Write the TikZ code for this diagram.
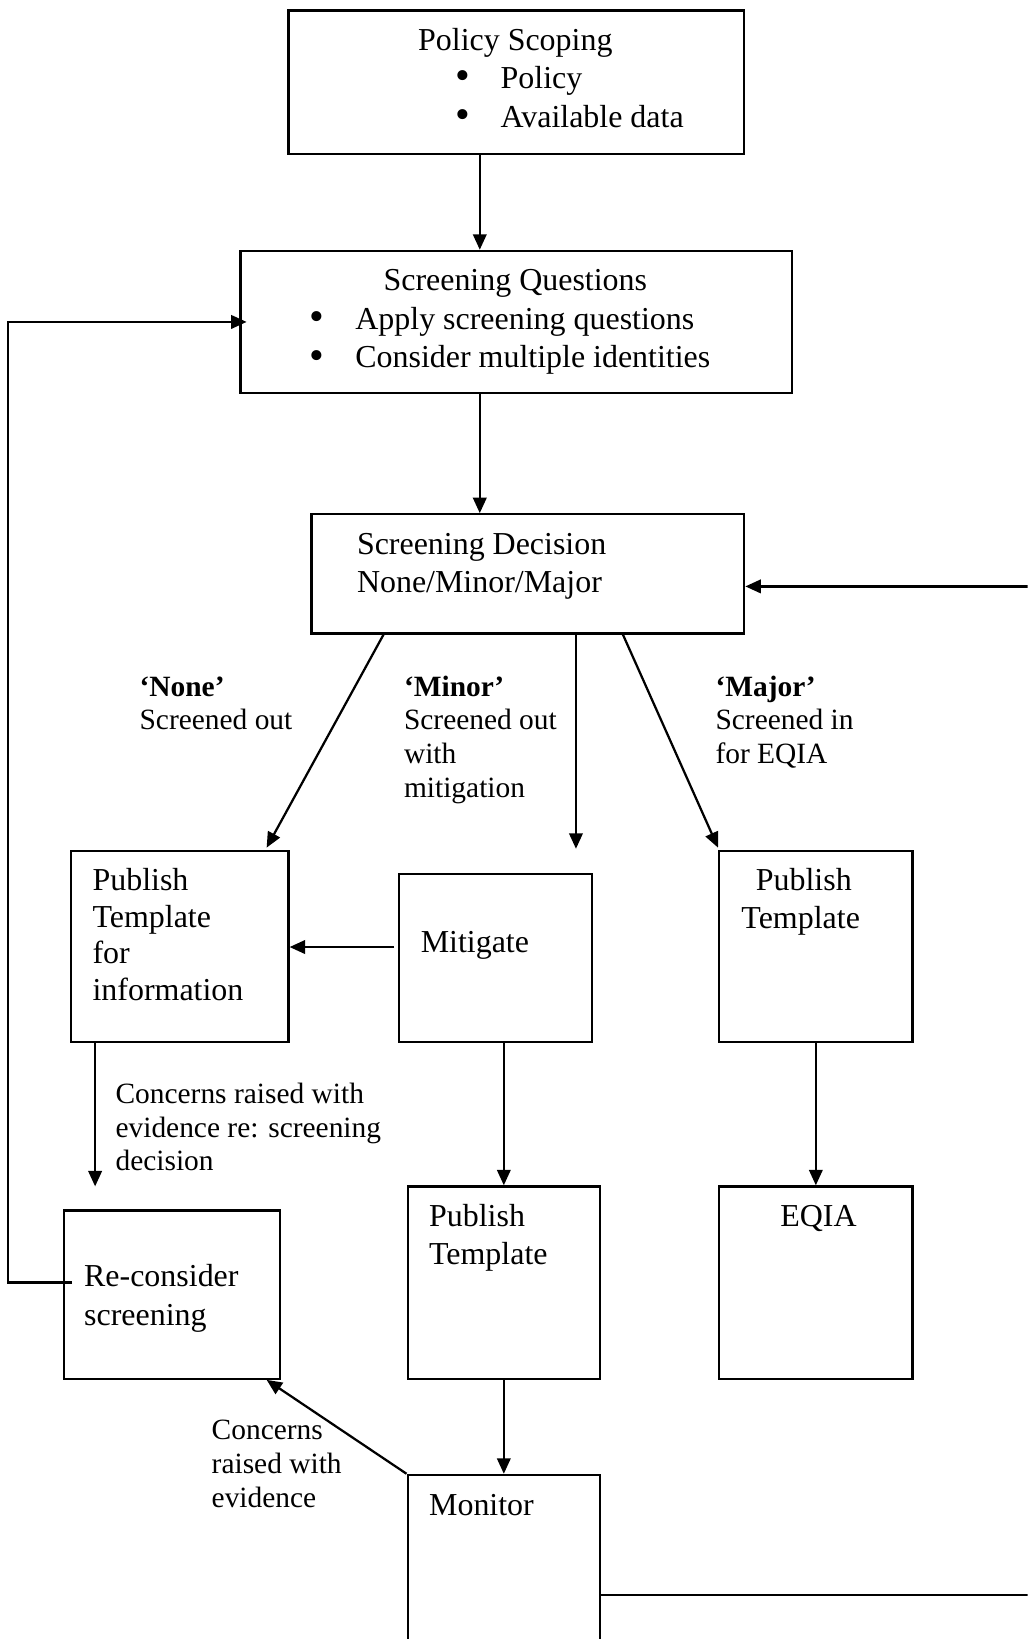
\documentclass[tikz,border=0pt]{standalone}
\usepackage{fontspec}
\setmainfont{Liberation Serif}
\usetikzlibrary{arrows.meta,calc,fit}

\newcommand{\bulletitem}[1]{\makebox[16.2pt][l]{\raisebox{-0.4pt}{\fontsize{15}{14}\selectfont\textbullet}}#1}

\begin{document}
\begin{tikzpicture}[
    x=0.373pt, y=-0.373pt,
    box/.style={draw, line width=0.8pt, inner sep=0pt},
    txt/.style={anchor=base west, inner sep=0pt, font=\fontsize{11.4}{14}\selectfont},
    ctxt/.style={txt, anchor=base},
    lbl/.style={anchor=base west, inner sep=0pt, font=\fontsize{10.5}{12}\selectfont},
    arr/.style={draw, line width=0.8pt, -{Triangle[length=5.5pt,width=4.8pt]}},
    wire/.style={draw, line width=0.8pt}
]

% page
\fill[white] (0,0) rectangle (983,1568);
\useasboundingbox (0,0) rectangle (983,1568);
\clip (0,0) rectangle (983,1568);

% Boxes
\node[box, fit={(276,10) (712,147)}]    (pol)   {};
\node[box, fit={(230,240) (758,376)}]   (sq)    {};
\node[box, fit={(298,492) (712,606)}]   (dec)   {};
\node[box, fit={(68,814) (276,997)}]    (pinf)  {};
\node[box, fit={(382,836) (566,997)}]   (mit)   {};
\node[box, fit={(688,814) (873,997)}]   (pmaj)  {};
\node[box, fit={(61,1158) (268,1319)}]  (rec)   {};
\node[box, fit={(390,1135) (574,1319)}] (pmin)  {};
\node[box, fit={(688,1135) (873,1319)}] (eqia)  {};
\node[box, fit={(390,1411) (574,1640)}] (mon)   {};

% Box texts
\node[ctxt] (polT) at (493,48)  {Policy Scoping};
\node[txt]  (polA) at (435,85)  {\bulletitem{Policy}};
\node[txt]  (polB) at (435,122) {\bulletitem{Available data}};

\node[ctxt] (sqT) at (493,278) {Screening Questions};
\node[txt]  (sqA) at (296,315) {\bulletitem{Apply screening questions}};
\node[txt]  (sqB) at (296,352) {\bulletitem{Consider multiple identities}};

\node[txt] (decA) at (341,530) {Screening Decision};
\node[txt] (decB) at (341,567) {None/Minor/Major};

\foreach \t [count=\i] in {Publish, Template, for, information}
    \node[txt] (pinf-\i) at (88,{852+35*(\i-1)}) {\t};

\node[txt]  (mitT)  at (402,911) {Mitigate};
\node[ctxt] (pmajA) at (769,852) {Publish};
\node[ctxt] (pmajB) at (766,888) {Template};
\node[txt]  (recA)  at (80,1231) {Re-consider};
\node[txt]  (recB)  at (80,1268) {screening};
\node[txt]  (pminA) at (410,1173) {Publish};
\node[txt]  (pminB) at (410,1210) {Template};
\node[ctxt] (eqiaT) at (783,1173) {EQIA};
\node[txt]  (monT)  at (410,1450) {Monitor};

% Labels
\node[lbl] (noneA) at (133,666) {\textbf{‘None’}};
\node[lbl] (noneB) at (133,698) {Screened out};

\node[lbl] (minA) at (386,666) {\textbf{‘Minor’}};
\node[lbl] (minB) at (386,698) {Screened out};
\node[lbl] (minC) at (386,730) {with};
\node[lbl] (minD) at (386,763) {mitigation};

\node[lbl] (majA) at (684,666) {\textbf{‘Major’}};
\node[lbl] (majB) at (684,698) {Screened in};
\node[lbl] (majC) at (684,730) {for EQIA};

\node[lbl] (conA) at (110,1056) {Concerns raised with};
\node[lbl] (conB) at (110,1088) {evidence re: screening};
\node[lbl] (conC) at (110,1120) {decision};

\node[lbl] (evA) at (202,1377) {Concerns};
\node[lbl] (evB) at (202,1410) {raised with};
\node[lbl] (evC) at (202,1442) {evidence};

% Helper points
\coordinate (mainX)    at (459,0);
\coordinate (minorEnd) at (551,812);
\coordinate (mitY)     at (0,906);
\coordinate (noneEnd)  at (91,1135);
\coordinate (loopL)    at (8,1227);
\coordinate (loopLtop) at (8,308);
\coordinate (loopR)    at (1000,1526);
\coordinate (loopRtop) at (1000,561);

% Connectors
\draw[arr] (pol.south -| mainX) -- (sq.north -| mainX);
\draw[arr] (sq.south -| mainX) -- (dec.north -| mainX);
\draw[arr] ($(dec.south west)+(70,0)$) -- ($(pinf.north east)+(-22,-2)$);
\draw[arr] (dec.south -| minorEnd) -- (minorEnd);
\draw[arr] ($(dec.south west)+(299,0)$) -- ($(pmaj.north west)+(0,-2)$);
\draw[arr] ($(mit.west |- mitY)+(-4,0)$) -- (pinf.east |- mitY);
\draw[arr] (pinf.south -| noneEnd) -- (noneEnd);
\draw[arr] (pmin.north |- mit.south) -- (pmin.north);
\draw[arr] (pmaj.south) -- (eqia.north);
\draw[arr] (pmin.south) -- (mon.north);
\draw[arr] (mon.north west) -- ($(rec.south east)+(-14,0)$);

% Loops back
\draw[arr] ($(rec.west |- loopL)+(9,0)$) -- (loopL) -- (loopLtop) -- ($(sq.west |- loopLtop)+(7,0)$);
\draw[arr] (mon.east |- loopR) -- (loopR) -- (loopRtop) -- (dec.east |- loopRtop);

\end{tikzpicture}
\end{document}
